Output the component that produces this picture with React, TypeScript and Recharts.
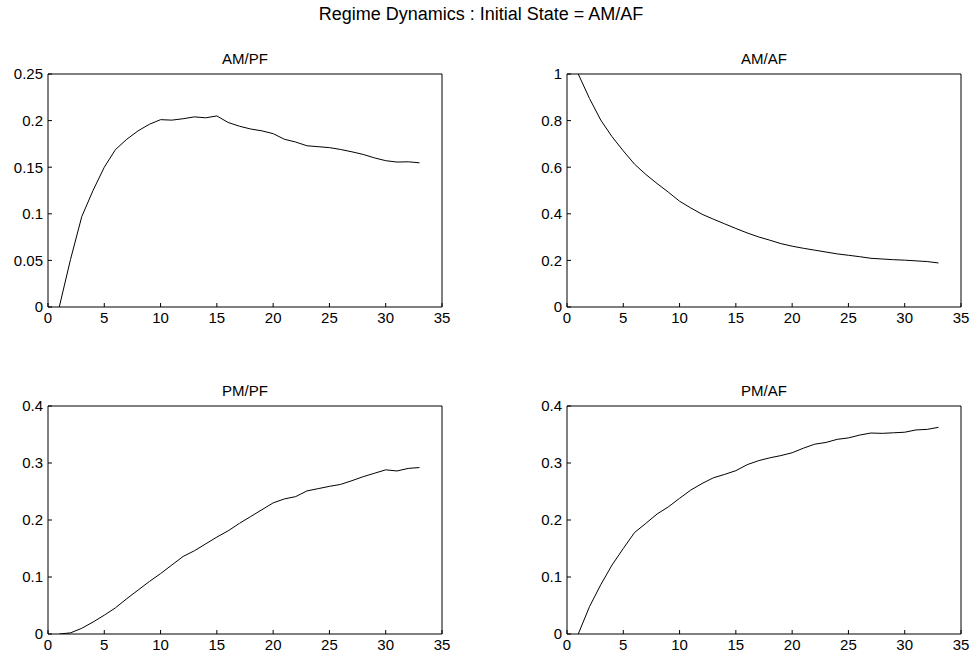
import { LineChart, Line, XAxis, YAxis } from 'recharts';

const steps = [1, 2, 3, 4, 5, 6, 7, 8, 9, 10, 11, 12, 13, 14, 15, 16, 17, 18, 19, 20, 21, 22, 23, 24, 25, 26, 27, 28, 29, 30, 31, 32, 33];

const amPf = [0, 0.051, 0.097, 0.125, 0.15, 0.169, 0.18, 0.189, 0.196, 0.201, 0.2005, 0.202, 0.204, 0.203, 0.205, 0.198, 0.194, 0.191, 0.189, 0.186, 0.18, 0.177, 0.173, 0.172, 0.171, 0.169, 0.1665, 0.1637, 0.16, 0.157, 0.1555, 0.1558, 0.1547];
const amAf = [1, 0.895, 0.802, 0.731, 0.67, 0.613, 0.569, 0.53, 0.493, 0.454, 0.425, 0.398, 0.377, 0.357, 0.337, 0.318, 0.301, 0.287, 0.272, 0.261, 0.252, 0.244, 0.236, 0.228, 0.222, 0.216, 0.209, 0.206, 0.203, 0.201, 0.198, 0.195, 0.189];
const pmPf = [0, 0.002, 0.01, 0.021, 0.033, 0.046, 0.062, 0.077, 0.092, 0.106, 0.121, 0.136, 0.146, 0.158, 0.17, 0.181, 0.194, 0.206, 0.218, 0.23, 0.237, 0.241, 0.251, 0.255, 0.259, 0.2625, 0.269, 0.276, 0.282, 0.288, 0.286, 0.2905, 0.292];
const pmAf = [0, 0.048, 0.0865, 0.121, 0.15, 0.178, 0.194, 0.2105, 0.223, 0.238, 0.2526, 0.264, 0.274, 0.28, 0.2865, 0.297, 0.304, 0.309, 0.313, 0.318, 0.326, 0.333, 0.336, 0.3415, 0.344, 0.349, 0.3526, 0.352, 0.353, 0.354, 0.358, 0.359, 0.3626];

const xTicks = [0, 5, 10, 15, 20, 25, 30, 35];
const yTicksSmall = [0, 0.05, 0.1, 0.15, 0.2, 0.25];
const yTicksUnit = [0, 0.2, 0.4, 0.6, 0.8, 1];
const yTicksPm = [0, 0.1, 0.2, 0.3, 0.4];

const FONT = 'Arial, "Liberation Sans", Helvetica, sans-serif';
const Y_W = 48;

interface PanelProps {
  title: string;
  values: number[];
  yTicks: number[];
  left: number;
  top: number;
  w: number;
  h: number;
}

function Panel({ title, values, yTicks, left, top, w, h }: PanelProps) {
  const rows = steps.map((t, i) => ({ t, v: values[i] }));
  const yDomain = [yTicks[0], yTicks[yTicks.length - 1]];
  const tickStyle = { fill: '#000', fontSize: 15, fontFamily: FONT };

  return (
    <>
      <div
        style={{
          position: 'absolute',
          left,
          top: top - 23,
          width: w,
          textAlign: 'center',
          fontFamily: FONT,
          fontSize: 15,
          lineHeight: '15px',
          color: '#000',
        }}
      >
        {title}
      </div>
      <div style={{ position: 'absolute', left: left - Y_W, top: top - 10 }}>
        {/* top/right axes are 1px wide so they render; they only carry the box and inward ticks */}
        <LineChart width={Y_W + w + 20} height={10 + h + 30} data={rows} margin={{ top: 9, right: 19, bottom: 5, left: 0 }}>
          <XAxis
            dataKey="t"
            type="number"
            domain={[0, 35]}
            ticks={xTicks}
            interval={0}
            height={25}
            tickSize={-4}
            tickMargin={9}
            tick={tickStyle}
            stroke="#000"
            allowDataOverflow
          />
          <XAxis
            xAxisId="top"
            orientation="top"
            type="number"
            domain={[0, 35]}
            ticks={xTicks}
            interval={0}
            height={1}
            tickSize={-4}
            tick={false}
            stroke="#000"
            allowDataOverflow
          />
          <YAxis
            type="number"
            domain={yDomain}
            ticks={yTicks}
            interval={0}
            width={Y_W}
            tickSize={-4}
            tickMargin={9}
            tick={tickStyle}
            stroke="#000"
            allowDataOverflow
          />
          <YAxis
            yAxisId="right"
            orientation="right"
            type="number"
            domain={yDomain}
            ticks={yTicks}
            interval={0}
            width={1}
            tickSize={-4}
            tick={false}
            stroke="#000"
            allowDataOverflow
          />
          <Line type="linear" dataKey="v" stroke="#000" strokeWidth={1} dot={false} isAnimationActive={false} />
        </LineChart>
      </div>
    </>
  );
}

export default function App() {
  return (
    <div style={{ position: 'absolute', left: 0, top: 0, width: 974, height: 662, background: '#fff' }}>
      <div
        style={{
          position: 'absolute',
          left: 0,
          top: 5,
          width: 962,
          textAlign: 'center',
          fontFamily: FONT,
          fontSize: 18,
          lineHeight: '18px',
          color: '#000',
        }}
      >
        Regime Dynamics : Initial State = AM/AF
      </div>
      <Panel title="AM/PF" values={amPf} yTicks={yTicksSmall} left={48} top={74} w={394} h={233} />
      <Panel title="AM/AF" values={amAf} yTicks={yTicksUnit} left={567} top={74} w={394} h={233} />
      <Panel title="PM/PF" values={pmPf} yTicks={yTicksPm} left={48} top={406} w={394} h={228} />
      <Panel title="PM/AF" values={pmAf} yTicks={yTicksPm} left={567} top={406} w={394} h={228} />
    </div>
  );
}
